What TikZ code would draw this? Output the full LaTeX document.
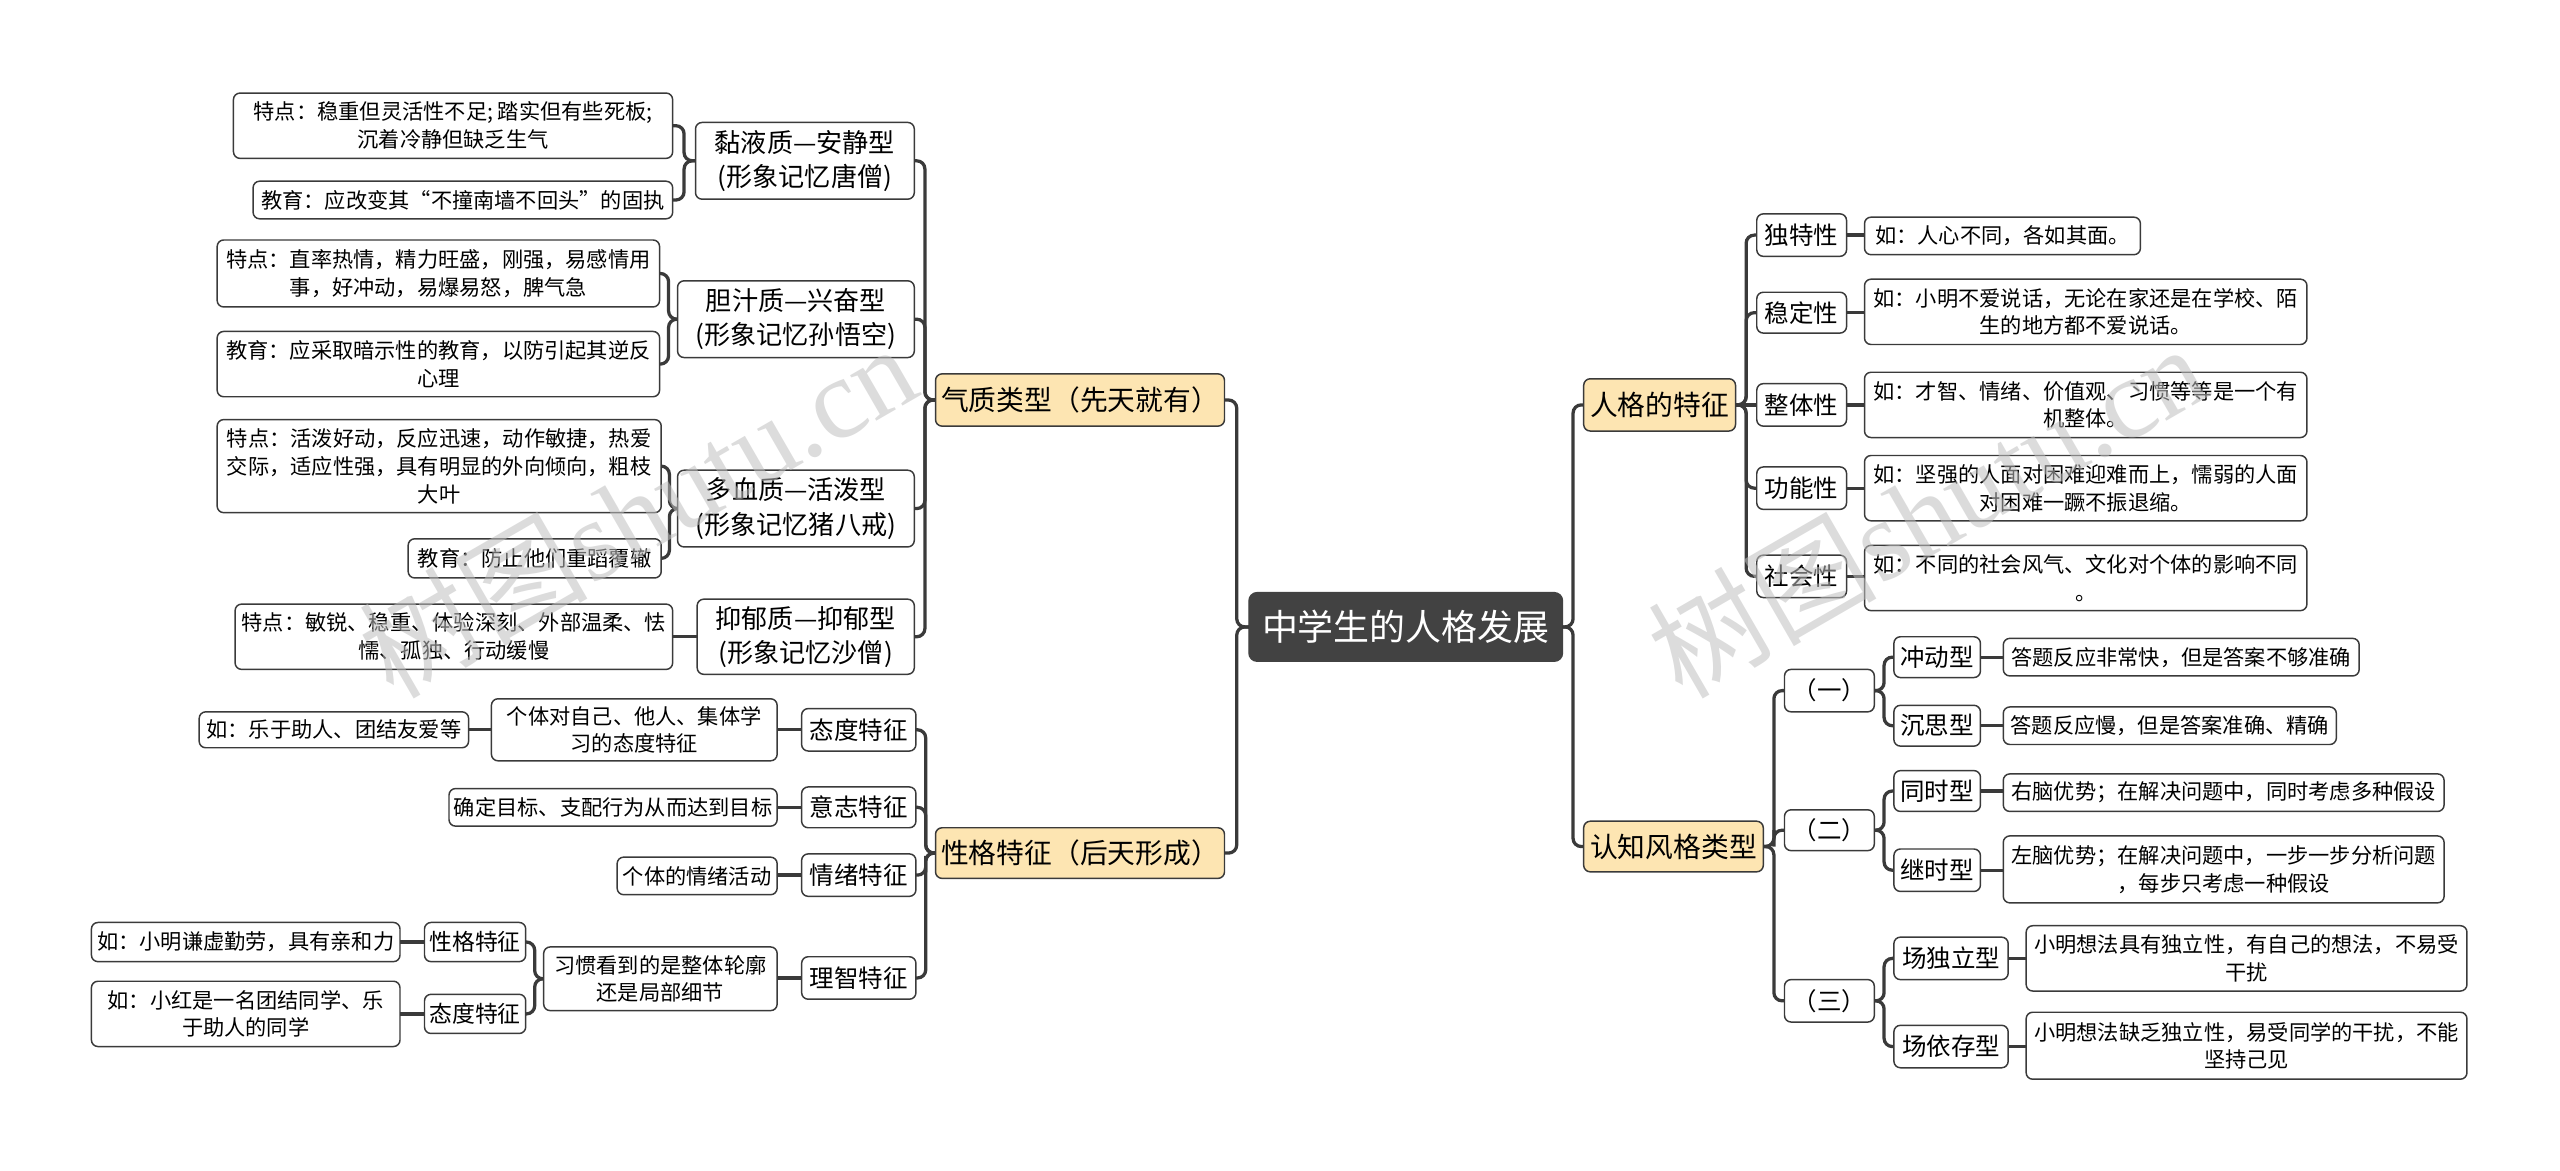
\documentclass[tikz,border=0pt]{standalone}
\usepackage{fontspec}
\setmainfont{Noto Sans CJK SC}
\newfontfamily\wmfont{Liberation Serif}
\usetikzlibrary{calc}
\definecolor{lnc}{HTML}{3A3A3A}
\definecolor{yel}{HTML}{FDE5B2}
\definecolor{cen}{HTML}{424242}
\tikzset{
 base/.style={draw=lnc, line width=0.9pt, rounded corners=4pt, fill=white, inner sep=0pt, outer sep=0pt, align=center, text=black},
 sm/.style={base, font=\fontsize{13}{17}\selectfont},
 md/.style={base, font=\fontsize{16}{21}\selectfont},
 lv/.style={base, font=\fontsize{15}{19}\selectfont},
 ss/.style={base, font=\fontsize{14}{18}\selectfont},
 yb/.style={base, fill=yel, font=\fontsize{17}{21}\selectfont},
 cb/.style={base, fill=cen, draw=cen, text=white, font=\fontsize{22}{26}\selectfont, rounded corners=5pt},
 conn/.style={draw=lnc, line width=2pt, rounded corners=5pt},
 wm/.style={rotate=30, text=gray!50, opacity=0.55, font=\fontsize{70}{70}\selectfont},
}
\newcommand\bx[7]{\node[#6, minimum width={#4-#2}, minimum height={#5-#3}] (#1) at ({(#2+#4)/2},{(#3+#5)/2}) {#7};}
\newcommand\lkL[2]{\draw[conn] (#1.west) -| ($(#1.west)!.5!(#2.east)$) |- (#2.east);}
\newcommand\lkR[2]{\draw[conn] (#1.east) -| ($(#1.east)!.5!(#2.west)$) |- (#2.west);}
\newcommand\lsL[2]{\draw[conn] (#1.west) -- (#2.east |- #1.west);}
\newcommand\lsR[2]{\draw[conn] (#1.east) -- (#2.west |- #1.east);}
\begin{document}
\begin{tikzpicture}[x=1pt,y=-1pt]
\useasboundingbox (0,0) rectangle (1568,717);
% connectors first
\begin{scope}[on background layer/.try]
\end{scope}
% nodes
\bx{c}{765}{363}{957}{405}{cb}{中学生的人格发展}
\bx{q}{573}{229}{750}{261}{yb}{气质类型（先天就有）}
\bx{x}{573}{507}{750}{538}{yb}{性格特征（后天形成）}
\bx{r}{970}{232}{1063}{264}{yb}{人格的特征}
\bx{k}{970}{503}{1080}{534}{yb}{认知风格类型}
% temperament
\bx{q1}{426}{75}{560}{122}{md}{黏液质—安静型\\(形象记忆唐僧)}
\bx{q2}{415}{172}{560}{219}{md}{胆汁质—兴奋型\\(形象记忆孙悟空)}
\bx{q3}{415}{288}{560}{335}{md}{多血质—活泼型\\(形象记忆猪八戒)}
\bx{q4}{427}{367}{560}{413}{md}{抑郁质—抑郁型\\(形象记忆沙僧)}
\bx{q1a}{143}{57}{412}{97}{sm}{特点：稳重但灵活性不足; 踏实但有些死板;\\沉着冷静但缺乏生气}
\bx{q1b}{155}{111}{412}{134}{sm}{教育：应改变其“不撞南墙不回头”的固执}
\bx{q2a}{133}{147}{404}{188}{sm}{特点：直率热情，精力旺盛，刚强，易感情用\\事，好冲动，易爆易怒，脾气急}
\bx{q2b}{133}{203}{404}{243}{sm}{教育：应采取暗示性的教育，以防引起其逆反\\心理}
\bx{q3a}{133}{257}{405}{314}{sm}{特点：活泼好动，反应迅速，动作敏捷，热爱\\交际，适应性强，具有明显的外向倾向，粗枝\\大叶}
\bx{q3b}{250}{330}{405}{354}{sm}{教育：防止他们重蹈覆辙}
\bx{q4a}{144}{370}{412}{410}{sm}{特点：敏锐、稳重、体验深刻、外部温柔、怯\\懦、孤独、行动缓慢}
% character
\bx{x1}{491}{434}{561}{460}{lv}{态度特征}
\bx{x2}{491}{482}{561}{507}{lv}{意志特征}
\bx{x3}{491}{523}{561}{549}{lv}{情绪特征}
\bx{x4}{491}{586}{561}{612}{lv}{理智特征}
\bx{x1a}{301}{428}{476}{466}{sm}{个体对自己、他人、集体学\\习的态度特征}
\bx{x1b}{122}{436}{287}{458}{sm}{如：乐于助人、团结友爱等}
\bx{x2a}{275}{483}{476}{506}{sm}{确定目标、支配行为从而达到目标}
\bx{x3a}{378}{525}{476}{548}{sm}{个体的情绪活动}
\bx{x4a}{333}{580}{476}{619}{sm}{习惯看到的是整体轮廓\\还是局部细节}
\bx{x4b}{260}{565}{322}{589}{ss}{性格特征}
\bx{x4c}{260}{609}{322}{633}{ss}{态度特征}
\bx{x4b1}{56}{565}{245}{589}{sm}{如：小明谦虚勤劳，具有亲和力}
\bx{x4c1}{56}{601}{245}{641}{sm}{如：小红是一名团结同学、乐\\于助人的同学}
% personality traits
\bx{r1}{1076}{131}{1131}{157}{lv}{独特性}
\bx{r2}{1076}{179}{1131}{204}{lv}{稳定性}
\bx{r3}{1076}{235}{1131}{261}{lv}{整体性}
\bx{r4}{1076}{286}{1131}{312}{lv}{功能性}
\bx{r5}{1076}{340}{1131}{366}{lv}{社会性}
\bx{r1a}{1142}{133}{1311}{156}{sm}{如：人心不同，各如其面。}
\bx{r2a}{1142}{171}{1413}{211}{sm}{如：小明不爱说话，无论在家还是在学校、陌\\生的地方都不爱说话。}
\bx{r3a}{1142}{228}{1413}{268}{sm}{如：才智、情绪、价值观、习惯等等是一个有\\机整体。}
\bx{r4a}{1142}{279}{1413}{319}{sm}{如：坚强的人面对困难迎难而上，懦弱的人面\\对困难一蹶不振退缩。}
\bx{r5a}{1142}{334}{1413}{374}{sm}{如：不同的社会风气、文化对个体的影响不同\\。}
% cognitive styles
\bx{k1}{1093}{410}{1148}{436}{lv}{（一）}
\bx{k2}{1093}{496}{1148}{521}{lv}{（二）}
\bx{k3}{1093}{600}{1148}{626}{lv}{（三）}
\bx{k1a}{1160}{390}{1213}{415}{lv}{冲动型}
\bx{k1b}{1160}{432}{1213}{457}{lv}{沉思型}
\bx{k2a}{1160}{472}{1213}{497}{lv}{同时型}
\bx{k2b}{1160}{520}{1213}{546}{lv}{继时型}
\bx{k3a}{1160}{574}{1230}{600}{lv}{场独立型}
\bx{k3b}{1160}{628}{1230}{654}{lv}{场依存型}
\bx{k1a1}{1227}{391}{1445}{414}{sm}{答题反应非常快，但是答案不够准确}
\bx{k1b1}{1227}{433}{1431}{456}{sm}{答题反应慢，但是答案准确、精确}
\bx{k2a1}{1227}{474}{1497}{497}{sm}{右脑优势；在解决问题中，同时考虑多种假设}
\bx{k2b1}{1227}{512}{1497}{553}{sm}{左脑优势；在解决问题中，一步一步分析问题\\，每步只考虑一种假设}
\bx{k3a1}{1241}{567}{1511}{607}{sm}{小明想法具有独立性，有自己的想法，不易受\\干扰}
\bx{k3b1}{1241}{620}{1511}{661}{sm}{小明想法缺乏独立性，易受同学的干扰，不能\\坚持己见}
% connectors
\lkL{c}{q}\lkL{c}{x}\lkR{c}{r}\lkR{c}{k}
\lkL{q}{q1}\lkL{q}{q2}\lkL{q}{q3}\lkL{q}{q4}
\lkL{q1}{q1a}\lkL{q1}{q1b}\lkL{q2}{q2a}\lkL{q2}{q2b}\lkL{q3}{q3a}\lkL{q3}{q3b}\lsL{q4}{q4a}
\lkL{x}{x1}\lkL{x}{x2}\lkL{x}{x3}\lkL{x}{x4}
\lsL{x1}{x1a}\lsL{x1a}{x1b}\lsL{x2}{x2a}\lsL{x3}{x3a}\lsL{x4}{x4a}
\lkL{x4a}{x4b}\lkL{x4a}{x4c}\lsL{x4b}{x4b1}\lsL{x4c}{x4c1}
\lkR{r}{r1}\lkR{r}{r2}\lsR{r}{r3}\lkR{r}{r4}\lkR{r}{r5}
\lsR{r1}{r1a}\lsR{r2}{r2a}\lsR{r3}{r3a}\lsR{r4}{r4a}\lsR{r5}{r5a}
\lkR{k}{k1}\lkR{k}{k2}\lkR{k}{k3}
\lkR{k1}{k1a}\lkR{k1}{k1b}\lkR{k2}{k2a}\lkR{k2}{k2b}\lkR{k3}{k3a}\lkR{k3}{k3b}
\lsR{k1a}{k1a1}\lsR{k1b}{k1b1}\lsR{k2a}{k2a1}\lsR{k2b}{k2b1}\lsR{k3a}{k3a1}\lsR{k3b}{k3b1}
% watermarks
\node[wm] (wm1) at (390,312) {树图{\wmfont shutu.cn}};
\node[wm] (wm2) at (1180,312) {树图{\wmfont shutu.cn}};
\end{tikzpicture}
\end{document}
